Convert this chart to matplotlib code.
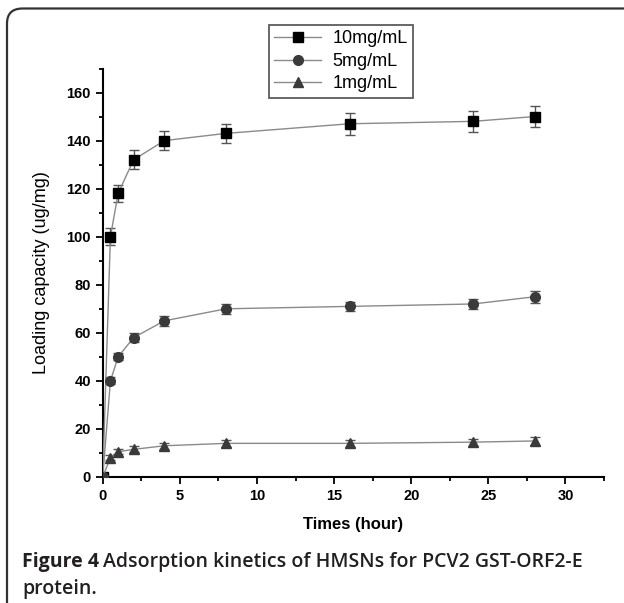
import numpy as np
import matplotlib.pyplot as plt
from matplotlib.patches import FancyBboxPatch
from matplotlib.ticker import MultipleLocator

# === datos ===
horas = [0, 0.5, 1, 2, 4, 8, 16, 24, 28]
c10 = [0, 100, 118, 132, 140, 143, 147, 148, 150]
e10 = [0, 3.5, 3.5, 4, 4, 4, 4.5, 4.5, 4.5]
c5 = [0, 40, 50, 58, 65, 70, 71, 72, 75]
e5 = [0, 1.5, 1.5, 2, 2, 2, 2, 2, 2.5]
c1 = [0, 8, 10.5, 11.5, 13, 14, 14, 14.5, 15]
e1 = [0, 1, 1, 1.2, 1.2, 1.5, 1.5, 1.5, 1.5]
etiquetas = ["10mg/mL", "5mg/mL", "1mg/mL"]

plt.rcParams['font.family'] = ['Liberation Sans', 'DejaVu Sans']

fig = plt.figure(figsize=(6.24, 6.03), dpi=100)

# marco redondeado de la figura
marco = FancyBboxPatch((7 / 624, -0.1), 1.2, 1 - 8.5 / 603 + 0.1,
                       boxstyle="round,pad=0,rounding_size=0.025",
                       transform=fig.transFigure, fill=False,
                       edgecolor='#333333', linewidth=1.6)
fig.patches.append(marco)

ax = fig.add_axes([0.1646, 1 - 477 / 603, 0.968 - 0.1646, (477 - 68.5) / 603])

series = [(c10, e10, 's', 'black'), (c5, e5, 'o', '#3a3a3a'), (c1, e1, '^', '#3a3a3a')]
handles = []
for (y, e, m, mc), lab in zip(series, etiquetas):
    ax.errorbar(horas, y, yerr=e, fmt='none', ecolor='#555555', elinewidth=1,
                capsize=3.5, capthick=1, zorder=2)
    h, = ax.plot(horas, y, color='#8a8a8a', linewidth=1, marker=m, markersize=7,
                 markerfacecolor=mc, markeredgecolor=mc, label=lab, zorder=3)
    handles.append(h)

ax.set_xlim(0, 32.5)
ax.set_ylim(0, 170)
ax.xaxis.set_major_locator(MultipleLocator(5))
ax.xaxis.set_minor_locator(MultipleLocator(2.5))
ax.yaxis.set_major_locator(MultipleLocator(20))
ax.yaxis.set_minor_locator(MultipleLocator(10))
ax.spines['top'].set_visible(False)
ax.spines['right'].set_visible(False)
ax.spines['left'].set_linewidth(1.5)
ax.spines['bottom'].set_linewidth(1.5)
ax.tick_params(which='major', direction='out', length=5, width=1.3, labelsize=10.5)
ax.tick_params(which='minor', direction='out', length=3, width=1.3)
for t in ax.get_xticklabels() + ax.get_yticklabels():
    t.set_fontweight('bold')

ax.set_xlabel("Times (hour)", fontsize=12, fontweight='bold', labelpad=10)
ax.set_ylabel("Loading capacity (ug/mg)", fontsize=13, labelpad=12)

leg = fig.legend(handles=handles, loc='upper center', bbox_to_anchor=(341 / 624, 1 - 25 / 603),
                 fontsize=13, frameon=True, fancybox=False, edgecolor='#333333',
                 handlelength=2.6, handletextpad=0.6, borderpad=0.3, labelspacing=0.3,
                 borderaxespad=0, markerfirst=True)
leg.get_frame().set_linewidth(1.3)

# pie de figura
fig.text(22 / 624, 1 - 567 / 603, "Figure 4", family='Open Sans', fontweight='bold',
         fontsize=14, color='#231f20', va='baseline')
fig.text(103 / 624, 1 - 567 / 603, "Adsorption kinetics of HMSNs for PCV2 GST-ORF2-E",
         family='Open Sans', fontweight='semibold', fontsize=14, color='#231f20', va='baseline')
fig.text(22 / 624, 1 - 594 / 603, "protein.", family='Open Sans', fontweight='semibold',
         fontsize=14, color='#231f20', va='baseline')

fig.savefig("out.png", dpi=100)
